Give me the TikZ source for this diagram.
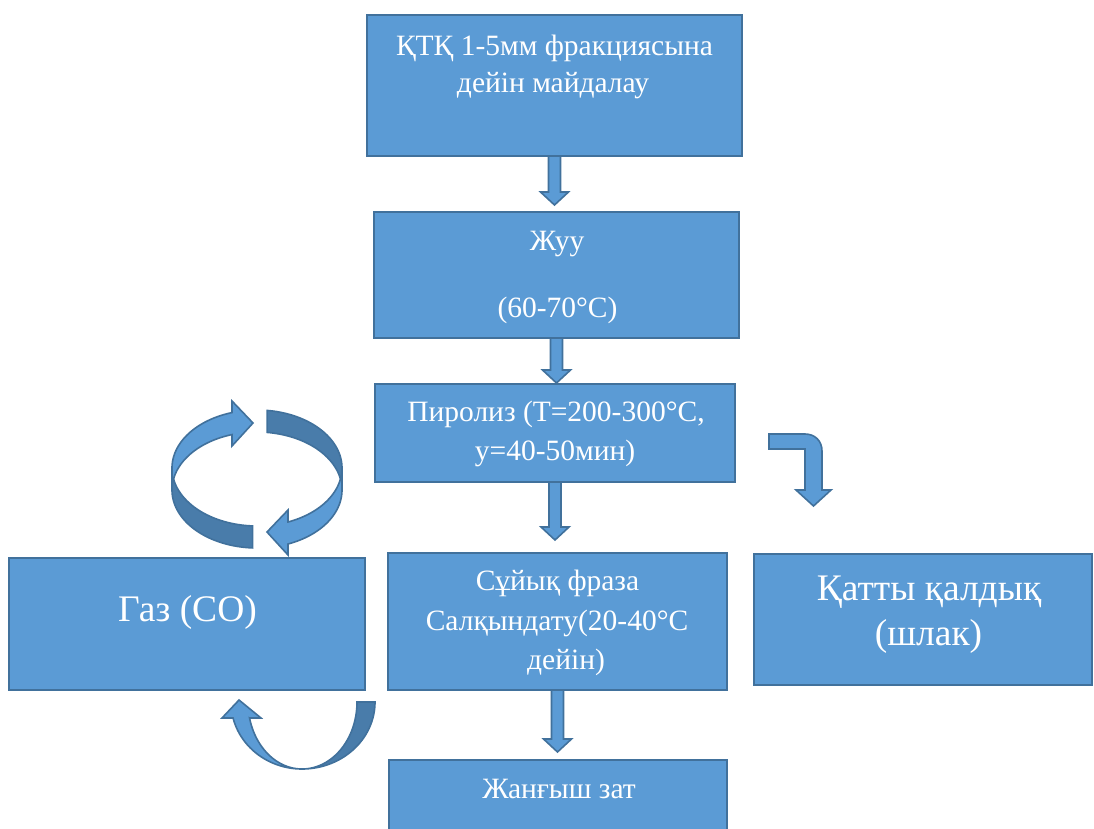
\documentclass[tikz,border=0pt]{standalone}
\usepackage{fontspec}
\setmainfont{Liberation Serif}
\usetikzlibrary{calc}
\definecolor{boxfill}{HTML}{5B9BD5}
\definecolor{boxline}{HTML}{41719C}
\definecolor{backfill}{HTML}{497CAA}
\newcommand\dnarrow[3]{\draw[blockarr] let \p1=(#1.south), \p2=(#2.north) in
  (\x1-6pt,\y1) -- (\x1+6pt,\y1) -- (\x1+6pt,\y2+#3pt+13pt) -- (\x1+14pt,\y2+#3pt+13pt)
  -- (\x1,\y2+#3pt) -- (\x1-14pt,\y2+#3pt+13pt) -- (\x1-6pt,\y2+#3pt+13pt) -- cycle;}
\begin{document}
\begin{tikzpicture}[x=1pt,y=-1pt,
  stagebox/.style={draw=boxline, fill=boxfill, line width=2.4pt, rectangle, inner sep=0pt, outer sep=0pt},
  lbl/.style={text=white, font=\fontsize{29.5}{36}\selectfont, anchor=base, inner sep=0pt, outer sep=0pt},
  biglbl/.style={lbl, font=\fontsize{37.5}{45}\selectfont},
  blockarr/.style={draw=boxline, fill=boxfill, line width=1.6pt, line join=miter},
  frontband/.style={draw=boxline, fill=boxfill, line width=1.6pt, line join=miter},
  backband/.style={draw=boxline, fill=backfill, line width=1.6pt, line join=miter},
]
\useasboundingbox (0,0) rectangle (1094,828);
\clip (0,0) rectangle (1094,828);

% boxes
\node[stagebox, minimum width=375pt, minimum height=141pt] (b1) at (554.5,85.5) {};
\node[stagebox, minimum width=365pt, minimum height=126pt] (b2) at (556.5,275) {};
\node[stagebox, minimum width=360pt, minimum height=98pt] (b3) at (555,433) {};
\node[stagebox, minimum width=339pt, minimum height=137pt] (b4) at (557.5,621.5) {};
\node[stagebox, minimum width=338pt, minimum height=80pt] (b5) at (558,800) {};
\node[stagebox, minimum width=356pt, minimum height=132pt] (gas) at (187,624) {};
\node[stagebox, minimum width=338pt, minimum height=131pt] (slag) at (923,619.5) {};

% texts
\node[lbl] (t1a) at (554.5,55) {ҚТҚ 1-5мм фракциясына};
\node[lbl] (t1b) at (553,92) {дейін майдалау};
\node[lbl] (t2a) at (557,250) {Жуу};
\node[lbl] (t2b) at (557.5,317) {(60-70°С)};
\node[lbl] (t3a) at (556,421.7) {Пиролиз (Т=200-300°С,};
\node[lbl] (t3b) at (555,460) {у=40-50мин)};
\node[lbl] (t4a) at (557.5,590) {Сұйық фраза};
\node[lbl] (t4b) at (557,630) {Салқындату(20-40°С};
\node[lbl] (t4c) at (566,669) {дейін)};
\node[lbl] (t5) at (559,798) {Жанғыш зат};
\node[biglbl] (tg) at (187.5,621.7) {Газ (СО)};
\node[biglbl] (tsa) at (929,600) {Қатты қалдық};
\node[biglbl] (tsb) at (928.5,645) {(шлак)};

% straight block arrows
\dnarrow{b1}{b2}{7}
\dnarrow{b2}{b3}{1}
\dnarrow{b3}{b4}{13}
\dnarrow{b4}{b5}{8}

% bent arrow to the right of pyrolysis
\draw[blockarr] (769,434) -- (805,434) .. controls (815,434) and (822,441) .. (822,451)
  -- (822,490) -- (831,490) -- (813.5,506) -- (796,490) -- (805,490) -- (805,449) -- (769,449) -- cycle;

% circular pair of arrows (ribbon between an upper and a lower ellipse)
% left arrow: back band (bottom-left)
\draw[backband] plot[domain=180:93, samples=40, variable=\t] ({257+85*cos(\t)},{490+58*sin(\t)})
  -- plot[domain=93:180, samples=40, variable=\t] ({257+85*cos(\t)},{468+58*sin(\t)}) -- cycle;
% right arrow: back band (top-right)
\draw[backband] plot[domain=360:276.8, samples=40, variable=\t] ({257+85*cos(\t)},{468+58*sin(\t)})
  -- plot[domain=276.8:360, samples=40, variable=\t] ({257+85*cos(\t)},{490+58*sin(\t)}) -- cycle;
% left arrow: front band with head
\draw[frontband] plot[domain=180:252.9, samples=40, variable=\t] ({257+85*cos(\t)},{468+58*sin(\t)})
  -- (232,401) -- (253,423) -- (232,446) -- (232,434.6)
  -- plot[domain=252.9:180, samples=40, variable=\t] ({257+85*cos(\t)},{490+58*sin(\t)}) -- cycle;
% right arrow: front band with head
\draw[frontband] plot[domain=0:68.6, samples=40, variable=\t] ({257+85*cos(\t)},{490+58*sin(\t)})
  -- (288,555) -- (267,532) -- (288,510) -- (288,522)
  -- plot[domain=68.6:0, samples=40, variable=\t] ({257+85*cos(\t)},{468+58*sin(\t)}) -- cycle;

% U-shaped arrow below the gas box
\draw[backband] plot[domain=0:90, samples=40, variable=\t] ({302+73*cos(\t)},{702+67*sin(\t)})
  -- plot[domain=90:0, samples=40, variable=\t] ({302+55*cos(\t)},{702+67*sin(\t)}) -- cycle;
\draw[frontband] (222,718) -- (239,700) -- (261,718) -- (249.6,718)
  -- plot[domain=166.2:90, samples=40, variable=\t] ({302+54*cos(\t)},{702+67*sin(\t)})
  -- plot[domain=90:166.2, samples=40, variable=\t] ({302+71*cos(\t)},{702+67*sin(\t)}) -- cycle;
\end{tikzpicture}
\end{document}
